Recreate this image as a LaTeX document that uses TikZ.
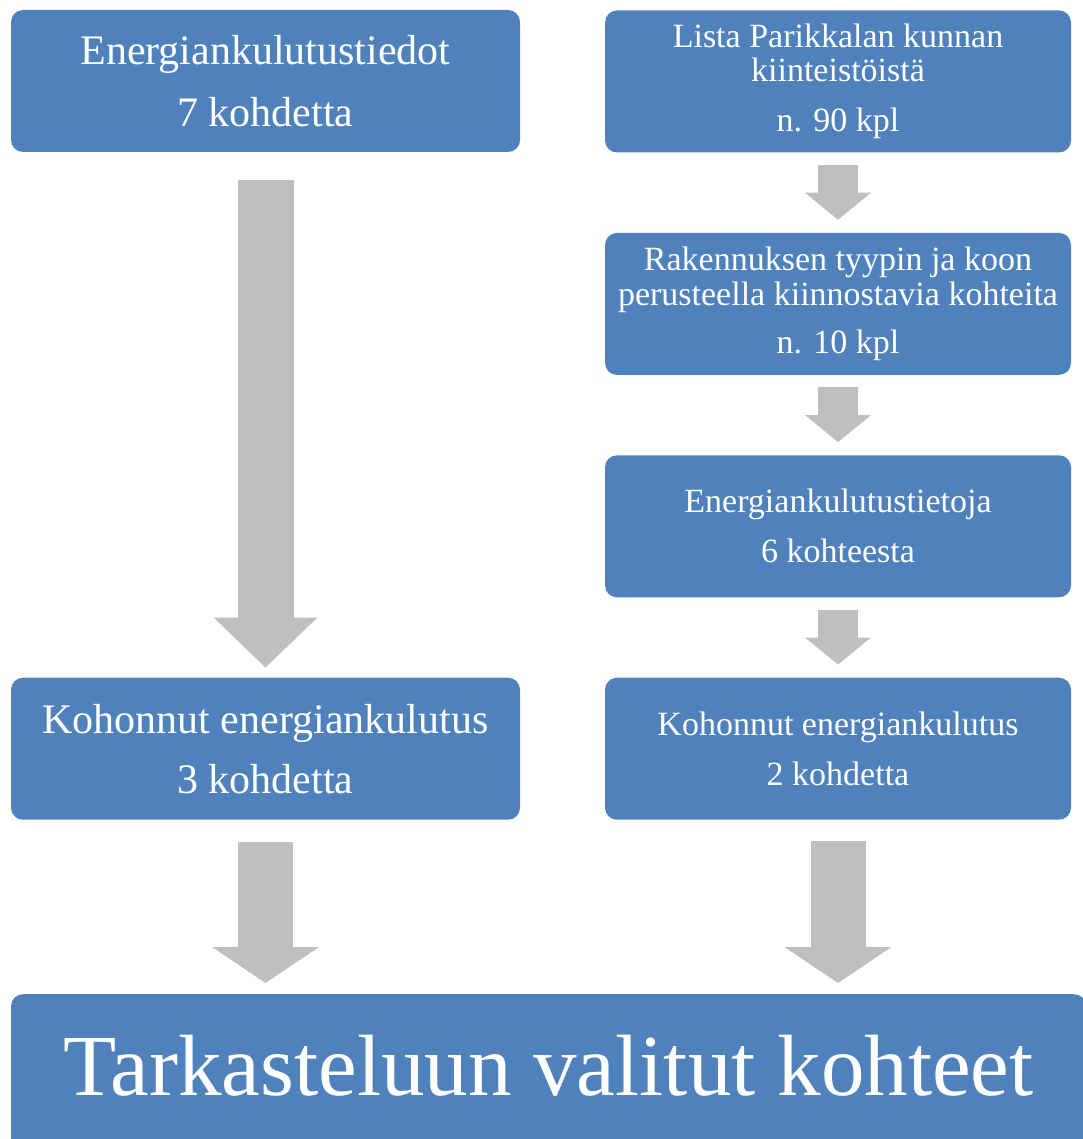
\documentclass[tikz,border=0pt]{standalone}
\usepackage{fontspec}
\setmainfont{Liberation Serif}
\usetikzlibrary{arrows.meta,positioning,calc}
\definecolor{boxblue}{RGB}{79,129,189}
\definecolor{arrowgray}{RGB}{191,191,191}

\begin{document}
\begin{tikzpicture}[x=1pt,y=-1pt,node distance=80pt,
  box/.style={fill=boxblue,rounded corners=12pt,text=white,align=center,minimum height=142pt,inner sep=0pt},
  lbox/.style={box,minimum width=509pt,font=\fontsize{42}{62}\selectfont},
  rbox/.style={box,minimum width=466pt,font=\fontsize{34}{50}\selectfont},
  fat/.style={draw=arrowgray,line width=40pt,-{Triangle[width=66pt,length=27pt,line width=0pt]},shorten <=12pt,shorten >=13pt}]
\useasboundingbox (0,0) rectangle (1082,1139);
% vasen sarake
\node[lbox] (ekt) at (265.5,81) {Energiankulutustiedot\\7 kohdetta};
% oikea sarake
\node[rbox,font=\fontsize{34}{34}\selectfont] (lista) at (838,81.5) {Lista Parikkalan kunnan\\kiinteistöistä\\[16pt]n. 90 kpl};
\node[rbox,font=\fontsize{34}{35}\selectfont,below=of lista] (tyyppi) {Rakennuksen tyypin ja koon\\perusteella kiinnostavia kohteita\\[13pt]n. 10 kpl};
\node[rbox,below=of tyyppi] (tieto) {Energiankulutustietoja\\6 kohteesta};
\node[rbox,below=of tieto] (kohr) {Kohonnut energiankulutus\\2 kohdetta};
\node[lbox,font=\fontsize{42}{60}\selectfont] (kohl) at (ekt |- kohr) {Kohonnut energiankulutus\\3 kohdetta};
% alalaatikko
\node[box,minimum width=1075pt,minimum height=170pt,text depth=28pt,anchor=north,font=\fontsize{87}{87}\selectfont] (valitut) at (548.5,994) {Tarkasteluun valitut kohteet};
% nuolet
\draw[fat,line width=56pt,-{Triangle[width=104pt,length=50pt,line width=0pt]},shorten <=28pt,shorten >=10pt] (ekt) -- (kohl);
\draw[fat] (lista) -- (tyyppi); \draw[fat] (tyyppi) -- (tieto); \draw[fat] (tieto) -- (kohr);
\draw[fat,line width=55pt,-{Triangle[width=107pt,length=36pt,line width=0pt]},shorten <=22pt,shorten >=11pt] (kohl) -- (kohl |- valitut.north);
\draw[fat,line width=55pt,-{Triangle[width=107pt,length=36pt,line width=0pt]},shorten <=21pt,shorten >=11pt] (kohr) -- (kohr |- valitut.north);
\end{tikzpicture}
\end{document}
